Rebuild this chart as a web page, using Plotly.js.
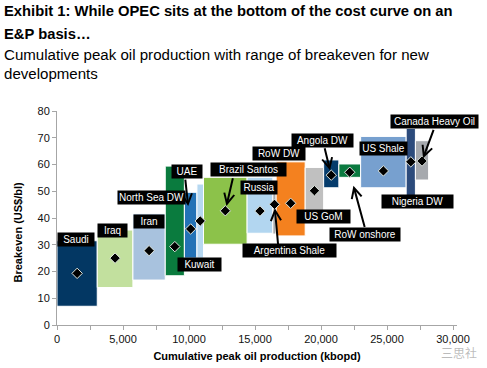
<!DOCTYPE html>
<html>
<head>
<meta charset="utf-8">
<script src="https://cdn.plot.ly/plotly-3.0.1.min.js"></script>
<style>html,body{margin:0;padding:0;background:#fff;}#chart{width:487px;height:368px;}</style>
</head>
<body>
<div id="chart"></div>
<script>
// ---- data ----
const regions = ['Saudi','Iraq','Iran','North Sea DW','UAE','Kuwait','Brazil Santos','Russia','Argentina Shale','RoW DW','US GoM','Angola DW','RoW onshore','US Shale','Nigeria DW','Canada Heavy Oil'];
const peakProduction = [3050,2700,2450,1450,950,500,3300,1950,250,2200,1400,1150,1650,3450,700,1000];
const breakevenLow  = [7,14,16.8,18.4,25,25,30.2,34.3,34,33.3,42,51.3,55.2,51.3,46.5,54.2];
const breakevenHigh = [31.5,35.5,41.6,59.4,49.6,52.7,55.2,55.2,52,61,58.9,61.7,60.2,70.5,73.5,68.9];
const breakevenMid  = [19.3,25,27.8,29.3,35.9,38.9,42.7,42.6,45.1,45.5,50.2,56,57.1,57.6,61,61.3];
const xTickVals = [0,5000,10000,15000,20000,25000,30000];
const yTickVals = [0,10,20,30,40,50,60,70,80];

// ---- styles ----
const barColors = ['#033763','#c2e09e','#a8c2de','#0a7b3e','#2372b6','#b6d8f1','#8cc24a','#b2d6f0','#a9a9a9','#f4811f','#c0c0c0','#053c6c','#0b7a40','#77a0cf','#2c4b7c','#a6a9ae'];

// cumulative positions derived from production
const starts = [];
let acc = 0;
peakProduction.forEach(p => { starts.push(acc); acc += p; });
const centers = starts.map((s, i) => s + peakProduction[i] / 2);
const spans = breakevenHigh.map((h, i) => h - breakevenLow[i]);

const bars = {
  type: 'bar',
  x: centers,
  y: spans,
  base: breakevenLow,
  width: peakProduction,
  text: regions,
  hoverinfo: 'text',
  textposition: 'none',
  marker: {color: barColors, line: {color: '#ffffff', width: 1}},
  showlegend: false
};
const mids = {
  type: 'scatter',
  mode: 'markers',
  x: centers,
  y: breakevenMid,
  marker: {symbol: 'diamond', size: 8, color: '#000000', line: {color: '#dfe6df', width: 1}},
  hoverinfo: 'skip',
  showlegend: false
};

// label boxes (layout: centre in data units, box width px)
const labelFont = {family: 'Arial, "Liberation Sans", sans-serif', size: 10, color: '#ffffff'};
const labelBoxes = [
  {t: 'Saudi', x: 1418, y: 32.1, w: 36},
  {t: 'Iraq', x: 4186, y: 35.3, w: 29},
  {t: 'Iran', x: 6932, y: 38.8, w: 30},
  {t: 'North Sea DW', x: 7159, y: 47.7, w: 67},
  {t: 'UAE', x: 9836, y: 57.5, w: 30},
  {t: 'Kuwait', x: 10822, y: 22.8, w: 43},
  {t: 'Brazil Santos', x: 14539, y: 58.1, w: 75},
  {t: 'Russia', x: 15282, y: 51.4, w: 36},
  {t: 'Argentina Shale', x: 17625, y: 27.7, w: 93},
  {t: 'RoW DW', x: 16799, y: 64.0, w: 52},
  {t: 'US GoM', x: 20173, y: 40.5, w: 53},
  {t: 'Angola DW', x: 20075, y: 68.9, w: 61},
  {t: 'RoW onshore', x: 23337, y: 33.8, w: 70},
  {t: 'US Shale', x: 24724, y: 66.0, w: 47},
  {t: 'Nigeria DW', x: 27280, y: 46.2, w: 71},
  {t: 'Canada Heavy Oil', x: 28622, y: 76.2, w: 87}
];
// arrows: index of target, tail in data units, standoff px
const arrows = [
  {i: 4, ax: 9708, ay: 54.9, s: 23},
  {i: 6, ax: 13348, ay: 55.4, s: 5},
  {i: 8, ax: 16761, ay: 29.3, s: 4},
  {i: 11, ax: 20249, ay: 66.6, s: 5},
  {i: 12, ax: 23337, ay: 36.1, s: 14},
  {i: 15, ax: 28568, ay: 73.5, s: 3}
];

const annotations = [];
arrows.forEach(a => {
  annotations.push({
    xref: 'x', yref: 'y', axref: 'x', ayref: 'y',
    x: centers[a.i], y: breakevenMid[a.i], ax: a.ax, ay: a.ay,
    text: '', showarrow: true, arrowhead: 5, arrowsize: 1, arrowwidth: 2,
    arrowcolor: '#000000', standoff: a.s
  });
});
labelBoxes.forEach(b => {
  annotations.push({
    xref: 'x', yref: 'y', x: b.x, y: b.y, text: b.t, showarrow: false,
    xanchor: 'center', yanchor: 'middle', width: b.w, height: 13,
    bgcolor: '#000000', borderpad: 0, font: labelFont, align: 'center'
  });
});

// heading lines: text, paper y (middle), target pixel width of the first line of each block
const headFont = 'Arial, "Liberation Sans", sans-serif';
const headLines = [
  {t: '<b>Exhibit 1: While OPEC sits at the bottom of the cost curve on an</b>', y: 1.468, size: 15.5, group: 'title', target: 449},
  {t: '<b>E&amp;P basis…</b>', y: 1.362, size: 15.5, group: 'title'},
  {t: 'Cumulative peak oil production with range of breakeven for new', y: 1.262, size: 15.5, group: 'sub', target: 426},
  {t: 'developments', y: 1.176, size: 15.5, group: 'sub'}
];
const headStart = annotations.length;
headLines.forEach(h => {
  annotations.push({
    xref: 'paper', yref: 'paper', x: -0.1375, y: h.y, xanchor: 'left', yanchor: 'middle',
    align: 'left', showarrow: false, text: h.t,
    font: {family: headFont, size: h.size, color: '#000000'}
  });
});
annotations.push({
  xref: 'paper', yref: 'paper', x: -0.0975, y: 0.432, xanchor: 'center', yanchor: 'middle',
  textangle: -90, showarrow: false, text: '<b>Breakeven (US$/bl)</b>',
  font: {family: 'Arial, "Liberation Sans", sans-serif', size: 11, color: '#000000'}
});
annotations.push({
  xref: 'paper', yref: 'paper', x: 1.005, y: -0.128, xanchor: 'center', yanchor: 'middle',
  showarrow: false, text: '三思社',
  font: {family: '"Noto Sans CJK SC", sans-serif', size: 12, color: 'rgba(120,120,120,0.5)'}
});

const axisFont = {family: 'Arial, "Liberation Sans", sans-serif', size: 11, color: '#111111'};
const layout = {
  width: 487, height: 368,
  margin: {l: 57, r: 30, t: 111, b: 43, pad: 0},
  paper_bgcolor: '#ffffff', plot_bgcolor: '#ffffff',
  font: axisFont,
  showlegend: false,
  xaxis: {
    range: [0, 30300], tickvals: xTickVals, tickformat: ',d',
    ticks: 'outside', ticklen: 4, tickcolor: '#a6a6a6', showgrid: false, zeroline: false,
    showline: true, linecolor: '#a6a6a6', linewidth: 1,
    minor: {dtick: 2500, tick0: 0, ticks: 'outside', ticklen: 4, tickcolor: '#a6a6a6', showgrid: false},
    tickfont: axisFont,
    title: {text: '<b>Cumulative peak oil production (kbopd)</b>', font: {family: 'Arial, "Liberation Sans", sans-serif', size: 11, color: '#000'}, standoff: 8}
  },
  yaxis: {
    range: [0, 80], tickvals: yTickVals,
    ticks: 'outside', ticklen: 4, tickcolor: '#a6a6a6', showgrid: false, zeroline: false,
    showline: true, linecolor: '#a6a6a6', linewidth: 1, tickfont: axisFont
  },
  annotations: annotations
};
Plotly.newPlot('chart', [bars, mids], layout, {displayModeBar: false, staticPlot: true}).then(gd => {
  // condense heading text horizontally to mimic the condensed typeface
  const scales = {};
  headLines.forEach((h, k) => {
    const el = gd.querySelector('.annotation[data-index="' + (headStart + k) + '"] text.annotation-text');
    if (!el) return;
    const bb = el.getBBox();
    if (h.target) scales[h.group] = h.target / bb.width;
  });
  headLines.forEach((h, k) => {
    const el = gd.querySelector('.annotation[data-index="' + (headStart + k) + '"] text.annotation-text');
    if (!el) return;
    const bb = el.getBBox();
    const s = scales[h.group] || 1;
    el.setAttribute('transform', 'translate(' + bb.x + ',0) scale(' + s + ',1) translate(' + (-bb.x) + ',0)');
  });
});
</script>
</body>
</html>
